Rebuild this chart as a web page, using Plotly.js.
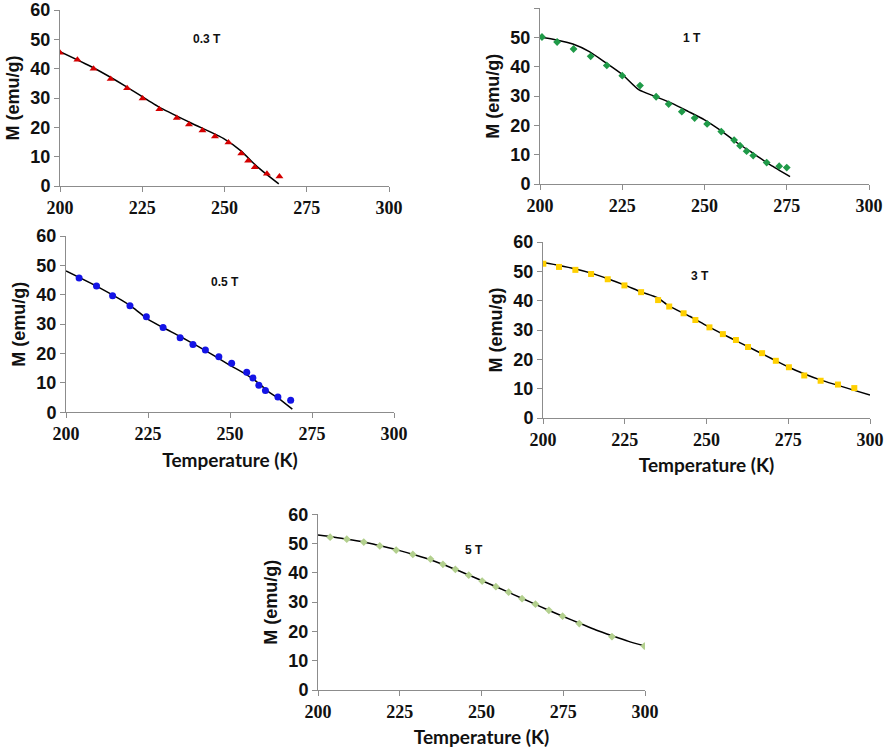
<!DOCTYPE html>
<html>
<head>
<meta charset="utf-8">
<script src="https://cdn.plot.ly/plotly-3.0.1.min.js"></script>
</head>
<body style="margin:0">
<div id="chart" style="width:886px;height:751px"></div>
<script>
const t03 = [200, 205.3, 210.2, 215.4, 220.4, 225.1, 230.2, 235.5, 239.2, 243.3, 247.1, 251.2, 255.1, 257.2, 259.2, 262.9, 266.7];
const m03 = [45.4, 43.0, 40.0, 36.5, 33.3, 29.8, 26.2, 23.2, 21.0, 18.9, 16.9, 14.8, 11.1, 8.6, 6.4, 4.2, 3.2];
const fitT03 = [200, 210, 220, 230, 240, 250, 255, 260, 266.5];
const fitM03 = [45.8, 40.4, 34.0, 27.0, 21.4, 16.0, 12.0, 6.5, 0.7];

const t1 = [200.6, 205.2, 210.2, 215.4, 220.3, 225.0, 230.4, 235.3, 239.1, 243.1, 247.0, 250.8, 255.1, 259.0, 260.8, 262.8, 264.8, 268.9, 272.7, 275.0];
const m1 = [50.2, 48.5, 46.1, 43.6, 40.5, 37.0, 33.6, 29.8, 27.3, 24.7, 22.5, 20.5, 17.9, 15.0, 13.1, 11.2, 9.7, 7.3, 6.1, 5.6];
const fitT1 = [200, 205, 210, 215, 220, 225, 230, 235, 240, 245, 250, 255, 260, 265, 270, 276];
const fitM1 = [50.2, 49.2, 47.8, 45.2, 41.4, 37.4, 32.2, 29.9, 27.6, 24.8, 21.9, 18.2, 14.0, 10.3, 6.5, 2.5];

const t05 = [204.0, 209.3, 214.2, 219.5, 224.5, 229.6, 234.8, 238.7, 242.5, 246.6, 250.5, 255.1, 257.0, 258.8, 260.8, 264.6, 268.5];
const m05 = [45.7, 43.0, 39.7, 36.3, 32.5, 28.9, 25.4, 23.1, 21.2, 18.9, 16.7, 13.6, 11.7, 9.2, 7.4, 5.2, 4.1];
const fitT05 = [200, 210, 220, 225, 230, 235, 240, 245, 250, 255, 258, 262, 265, 269];
const fitM05 = [48.1, 42.5, 36.0, 31.6, 28.6, 25.7, 22.6, 19.4, 16.0, 12.8, 10.5, 6.8, 4.6, 1.1];

const t3 = [200.1, 204.9, 209.9, 214.7, 219.8, 224.9, 230.0, 235.2, 238.6, 243.0, 246.6, 250.9, 255.0, 259.0, 262.7, 267.0, 271.2, 275.2, 279.9, 284.9, 290.2, 295.2];
const m3 = [52.6, 51.5, 50.5, 49.1, 47.3, 45.2, 42.9, 40.2, 38.0, 35.7, 33.4, 30.9, 28.6, 26.6, 24.2, 22.1, 19.5, 17.3, 14.5, 12.7, 11.4, 10.2];
const fitT3 = [200, 205, 210, 215, 220, 225, 230, 235, 238.5, 245, 250, 255, 260, 265, 270, 275, 280, 285, 290, 295, 300];
const fitM3 = [53.0, 52.0, 50.8, 49.3, 47.4, 45.3, 43.0, 41.0, 38.2, 34.6, 31.5, 28.6, 25.8, 23.0, 20.2, 17.4, 15.0, 12.9, 11.2, 9.5, 7.8];

const t5 = [203.7, 208.8, 214.0, 218.9, 223.9, 229.0, 234.4, 238.2, 242.0, 246.1, 250.2, 254.4, 258.3, 262.4, 266.5, 270.6, 274.8, 279.9, 289.9, 299.8];
const m5 = [52.2, 51.5, 50.5, 49.2, 47.8, 46.3, 44.7, 42.9, 41.2, 39.2, 37.2, 35.3, 33.4, 31.2, 29.3, 27.2, 25.2, 22.7, 18.2, 15.0];
const fitT5 = [200, 205, 210, 215, 220, 225, 230, 235, 240, 245, 250, 255, 260, 265, 270, 275, 280, 285, 290, 295, 300];
const fitM5 = [52.9, 52.2, 51.3, 50.3, 49.0, 47.6, 46.0, 44.2, 42.1, 39.8, 37.4, 35.0, 32.5, 30.0, 27.5, 25.1, 22.8, 20.5, 18.5, 16.6, 15.0];

const xTicks = [200, 225, 250, 275, 300];
const yTicks = [0, 10, 20, 30, 40, 50, 60];
const fields = ['0.3 T', '1 T', '0.5 T', '3 T', '5 T'];

const AX = '#8c8c8c';
const INK = '#111';
const serifBold = () => ({ family: 'Liberation Serif', size: 18, color: INK, weight: 'bold' });
const sansBold = (s) => ({ family: 'Liberation Sans', size: s, color: INK, weight: 'bold' });

function xAxis(domain, anchor, withTitle) {
  const ax = { domain: domain, tickfont: serifBold() };
  ax.anchor = anchor;
  ax.range = [200, 300];
  ax.tickvals = xTicks;
  ax.ticks = 'outside';
  ax.ticklen = 5;
  ax.tickcolor = AX;
  ax.showline = true;
  ax.linecolor = AX;
  ax.showgrid = false;
  ax.zeroline = false;
  if (withTitle) {
    ax.title = { text: 'Temperature (K)', standoff: 10, font: { family: 'Lato', size: 19, color: INK, weight: 'bold' } };
  }
  return ax;
}

function yAxis(domain, anchor) {
  const ax = { domain: domain, tickfont: sansBold(18) };
  ax.anchor = anchor;
  ax.range = [0, 60];
  ax.tickvals = yTicks;
  ax.ticks = 'outside';
  ax.ticklen = 5;
  ax.tickcolor = AX;
  ax.showline = true;
  ax.linecolor = AX;
  ax.showgrid = false;
  ax.zeroline = false;
  ax.title = { text: 'M (emu/g)', standoff: 6, font: sansBold(18) };
  return ax;
}

function pair(n, tx, my, ft, fm, marker) {
  const xa = n === 1 ? 'x' : 'x' + n;
  const ya = n === 1 ? 'y' : 'y' + n;
  return [
    { x: ft, y: fm, xaxis: xa, yaxis: ya, mode: 'lines', line: { color: '#000', width: 1.5, shape: 'spline', smoothing: 0.6 } },
    { x: tx, y: my, xaxis: xa, yaxis: ya, mode: 'markers', marker: marker },
  ];
}

const traces = [
  ...pair(1, t03, m03, fitT03, fitM03, { symbol: 'triangle-up', size: 7, color: '#d40000' }),
  ...pair(2, t1, m1, fitT1, fitM1, { symbol: 'diamond', size: 6, color: '#1f9a48' }),
  ...pair(3, t05, m05, fitT05, fitM05, { symbol: 'circle', size: 7, color: '#1414e6' }),
  ...pair(4, t3, m3, fitT3, fitM3, { symbol: 'square', size: 6, color: '#ffd000' }),
  ...pair(5, t5, m5, fitT5, fitM5, { symbol: 'diamond', size: 6, color: '#b3d08e' }),
];

const labelPos = [[207, 39], [692, 38], [225, 282], [700, 276], [474, 550]];
const annotations = fields.map((txt, i) => ({
  text: txt, xref: 'paper', yref: 'paper',
  x: labelPos[i][0] / 886, y: 1 - labelPos[i][1] / 751,
  xanchor: 'center', yanchor: 'middle', showarrow: false,
  font: sansBold(12),
}));

const layout = {
  width: 886, height: 751,
  margin: { l: 0, r: 0, t: 0, b: 0 },
  showlegend: false,
  xaxis: xAxis([60 / 886, 389 / 886], 'y', false),
  yaxis: yAxis([1 - 186 / 751, 1 - 10 / 751], 'x'),
  xaxis2: xAxis([540 / 886, 869 / 886], 'y2', false),
  yaxis2: yAxis([1 - 184 / 751, 1 - 8.3 / 751], 'x2'),
  xaxis3: xAxis([66 / 886, 394 / 886], 'y3', true),
  yaxis3: yAxis([1 - 412.3 / 751, 1 - 236 / 751], 'x3'),
  xaxis4: xAxis([543 / 886, 870 / 886], 'y4', true),
  yaxis4: yAxis([1 - 418 / 751, 1 - 242 / 751], 'x4'),
  xaxis5: xAxis([318 / 886, 645 / 886], 'y5', true),
  yaxis5: yAxis([1 - 690 / 751, 1 - 514.3 / 751], 'x5'),
  annotations: annotations,
};

Plotly.newPlot('chart', traces, layout, { staticPlot: true });
</script>
</body>
</html>
